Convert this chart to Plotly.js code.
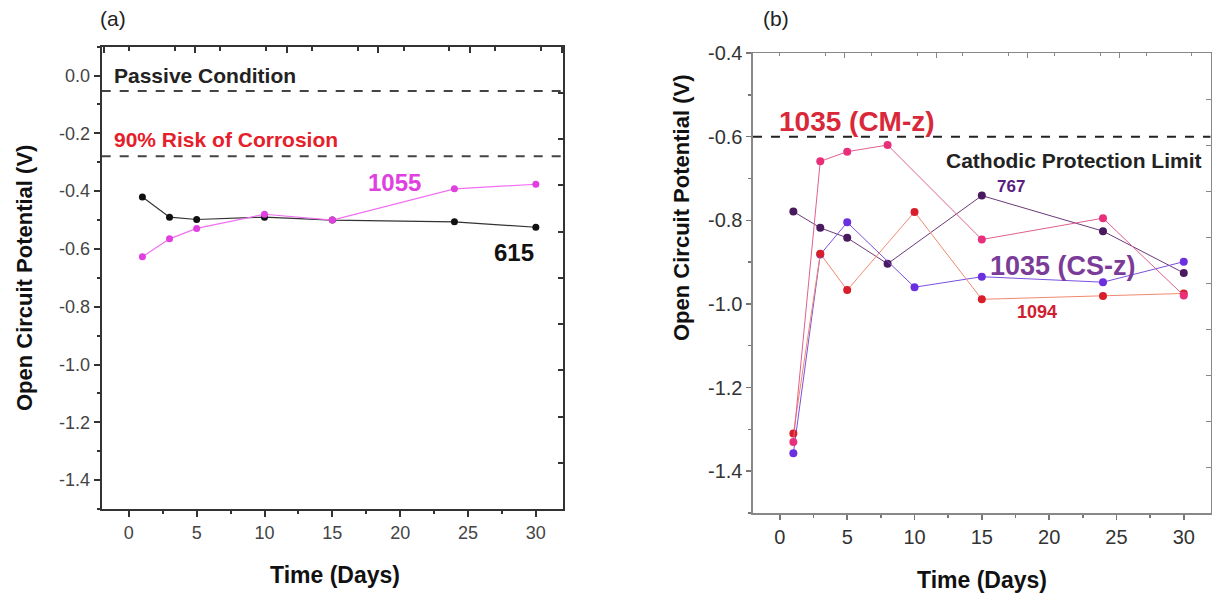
<!DOCTYPE html>
<html>
<head>
<meta charset="utf-8">
<script src="https://cdn.plot.ly/plotly-3.0.1.min.js"></script>
<style>html,body{margin:0;padding:0;background:#fff;}#chart{width:1218px;height:597px;}</style>
</head>
<body>
<div id="chart"></div>
<script>
// ---- Panel (a) data ----
const daysA = [1, 3, 5, 10, 15, 24, 30];
const ocp615 = [-0.42, -0.49, -0.498, -0.49, -0.50, -0.506, -0.525];
const ocp1055 = [-0.627, -0.565, -0.529, -0.48, -0.50, -0.392, -0.376];
const passiveLevel = -0.053;
const riskLevel = -0.279;

// ---- Panel (b) data ----
const daysCMz = [1, 3, 5, 8, 15, 24, 30];
const ocpCMz = [-1.33, -0.659, -0.636, -0.62, -0.846, -0.795, -0.98];
const days767 = [1, 3, 5, 8, 15, 24, 30];
const ocp767 = [-0.779, -0.818, -0.842, -0.904, -0.741, -0.826, -0.926];
const daysCSz = [1, 3, 5, 10, 15, 24, 30];
const ocpCSz = [-1.357, -0.882, -0.805, -0.96, -0.935, -0.948, -0.899];
const days1094 = [1, 3, 5, 10, 15, 24, 30];
const ocp1094 = [-1.31, -0.88, -0.967, -0.78, -0.989, -0.981, -0.975];
const cathodicLimit = -0.6;

const xTicks = [0, 5, 10, 15, 20, 25, 30];
const yTicksA = [0.0, -0.2, -0.4, -0.6, -0.8, -1.0, -1.2, -1.4];
const yTicksB = [-0.4, -0.6, -0.8, -1.0, -1.2, -1.4];

const F = '"Liberation Sans", Arial, sans-serif';
const xr = [-2, 32];

function line(x, y, xa, ya, lc, mc, lw, ms) {
  return {x: x, y: y, xaxis: xa, yaxis: ya, type: 'scatter', mode: 'lines+markers',
    line: {color: lc, width: lw}, marker: {color: mc, size: ms}, showlegend: false, hoverinfo: 'skip'};
}
function hline(yv, xa, ya, color, w) {
  return {x: xr, y: [yv, yv], xaxis: xa, yaxis: ya, type: 'scatter', mode: 'lines',
    line: {color: color, width: w, dash: 'dash'}, showlegend: false, hoverinfo: 'skip'};
}

const traces = [
  hline(passiveLevel, 'x', 'y', '#444', 2),
  hline(riskLevel, 'x', 'y', '#444', 2),
  line(daysA, ocp615, 'x', 'y', '#333', '#111', 1.2, 7),
  line(daysA, ocp1055, 'x', 'y', '#f070f0', '#e040e0', 1.2, 7),
  hline(cathodicLimit, 'x2', 'y2', '#222', 2),
  line(days767, ocp767, 'x2', 'y2', '#6a3a7a', '#4a1a5e', 1, 8),
  line(daysCSz, ocpCSz, 'x2', 'y2', '#7a50e0', '#6a30e0', 1, 8),
  line(days1094, ocp1094, 'x2', 'y2', '#f08a70', '#d81e2a', 1, 8),
  line(daysCMz, ocpCMz, 'x2', 'y2', '#e06090', '#e8307a', 1, 8)
];

const tf = {family: F, size: 18, color: '#444'};
const tfB = {family: F, size: 20, color: '#333'};

function pa(x, y, text, size, color, angle, xanchor) {
  return {xref: 'paper', yref: 'paper', x: x / 1218, y: 1 - y / 597, xanchor: xanchor || 'center', yanchor: 'middle',
    text: text, textangle: angle || 0, showarrow: false, font: {family: F, size: size, color: color}};
}

const layout = {
  width: 1218, height: 597,
  margin: {l: 0, r: 0, t: 0, b: 0},
  paper_bgcolor: '#fff', plot_bgcolor: '#fff',
  showlegend: false,
  xaxis: {domain: [0.0835, 0.4622], range: xr, tickvals: xTicks, ticks: 'outside', ticklen: 6, tickwidth: 2,
    tickcolor: '#333', showline: true, linecolor: '#333', linewidth: 2, showgrid: false, zeroline: false,
    tickfont: tf, anchor: 'y', minor: {dtick: 2.5, tick0: 0, ticks: 'outside', ticklen: 3, tickcolor: '#333', tickwidth: 2}},
  yaxis: {domain: [0.1474, 0.9218], range: [-1.5, 0.1], tickvals: yTicksA, ticktext: yTicksA.map(v => v.toFixed(1)),
    ticks: 'outside', ticklen: 6, tickwidth: 2, tickcolor: '#333', showline: true, linecolor: '#333', linewidth: 2,
    showgrid: false, zeroline: false, tickfont: tf, anchor: 'x',
    title: {text: '<b>Open Circuit Potential (V)</b>', font: {family: F, size: 22, color: '#111'}, standoff: 20},
    minor: {dtick: 0.1, tick0: 0, ticks: 'outside', ticklen: 3, tickcolor: '#333', tickwidth: 2}},
  xaxis3: {overlaying: 'x', side: 'top', range: xr, tick0: -1.85, dtick: 6.75, ticks: 'inside', ticklen: 6, tickwidth: 2,
    tickcolor: '#333', showticklabels: false, showline: true, linecolor: '#333', linewidth: 2, showgrid: false, zeroline: false,
    anchor: 'y', minor: {dtick: 3.375, ticks: 'inside', ticklen: 4, tickcolor: '#333'}},
  yaxis3: {overlaying: 'y', side: 'right', range: [-1.5, 0.1], tick0: -0.06, dtick: 0.16, ticks: 'inside', ticklen: 5,
    tickwidth: 2, tickcolor: '#333', showticklabels: false, showline: true, linecolor: '#333', linewidth: 2,
    showgrid: false, zeroline: false, anchor: 'x'},

  xaxis2: {domain: [0.6182, 0.9940], range: xr, tickvals: xTicks, ticks: 'outside', ticklen: 5, tickwidth: 1.5,
    tickcolor: '#777', showline: true, linecolor: '#888', linewidth: 1.5, showgrid: false, zeroline: false,
    tickfont: tfB, anchor: 'y2', minor: {dtick: 2.5, tick0: 0, ticks: 'outside', ticklen: 3, tickcolor: '#777'}},
  yaxis2: {domain: [0.1407, 0.9112], range: [-1.5, -0.4], tickvals: yTicksB, ticktext: yTicksB.map(v => v.toFixed(1)),
    ticks: 'outside', ticklen: 5, tickwidth: 1.5, tickcolor: '#777', showline: true, linecolor: '#888', linewidth: 1.5,
    showgrid: false, zeroline: false, tickfont: tfB, anchor: 'x2',
    minor: {dtick: 0.1, tick0: 0, ticks: 'outside', ticklen: 3, tickcolor: '#777'}},
  xaxis4: {overlaying: 'x2', side: 'top', range: xr, tick0: -2.0, dtick: 6.8, ticks: 'inside', ticklen: 5,
    tickcolor: '#888', showticklabels: false, showline: true, linecolor: '#888', linewidth: 1.5, showgrid: false,
    zeroline: false, anchor: 'y2', minor: {dtick: 3.4, ticks: 'inside', ticklen: 3, tickcolor: '#888'}},
  yaxis4: {overlaying: 'y2', side: 'right', range: [-1.5, -0.4], tick0: -0.62, dtick: 0.11, ticks: 'inside', ticklen: 5,
    tickcolor: '#888', showticklabels: false, showline: true, linecolor: '#888', linewidth: 1.5, showgrid: false,
    zeroline: false, anchor: 'x2'},

  annotations: [
    pa(113, 19, '(a)', 21, '#222'),
    pa(776, 19, '(b)', 21, '#222'),
    pa(681, 208, '<b>Open Circuit Potential (V)</b>', 22, '#111', -90),
    pa(335, 575, '<b>Time (Days)</b>', 23, '#111'),
    pa(982, 580, '<b>Time (Days)</b>', 23, '#111'),

    {xref: 'x', yref: 'y', x: -1.25, y: 0.0, xanchor: 'left', yanchor: 'middle', text: '<b>Passive Condition</b>', showarrow: false,
      font: {family: F, size: 21, color: '#222'}},
    {xref: 'x', yref: 'y', x: -1.25, y: -0.222, xanchor: 'left', yanchor: 'middle', text: '<b>90% Risk of Corrosion</b>', showarrow: false,
      font: {family: F, size: 21, color: '#e5202a'}},
    {xref: 'x', yref: 'y', x: 19.6, y: -0.37, xanchor: 'center', yanchor: 'middle', text: '<b>1055</b>', showarrow: false,
      font: {family: F, size: 24, color: '#e040e0'}},
    {xref: 'x', yref: 'y', x: 28.4, y: -0.611, xanchor: 'center', yanchor: 'middle', text: '<b>615</b>', showarrow: false,
      font: {family: F, size: 24, color: '#111'}},

    {xref: 'x2', yref: 'y2', x: -0.2, y: -0.564, xanchor: 'left', yanchor: 'middle', text: '<b>1035 (CM-z)</b>', showarrow: false,
      font: {family: F, size: 28, color: '#d8283a'}},
    {xref: 'x2', yref: 'y2', x: 31.5, y: -0.658, xanchor: 'right', yanchor: 'middle', text: '<b>Cathodic Protection Limit</b>', showarrow: false,
      font: {family: F, size: 21, color: '#222'}},
    {xref: 'x2', yref: 'y2', x: 17.2, y: -0.719, xanchor: 'center', yanchor: 'middle', text: '<b>767</b>', showarrow: false,
      font: {family: F, size: 17, color: '#5a2080'}},
    {xref: 'x2', yref: 'y2', x: 21.0, y: -0.909, xanchor: 'center', yanchor: 'middle', text: '<b>1035 (CS-z)</b>', showarrow: false,
      font: {family: F, size: 27, color: '#7a3c98'}},
    {xref: 'x2', yref: 'y2', x: 19.1, y: -1.02, xanchor: 'center', yanchor: 'middle', text: '<b>1094</b>', showarrow: false,
      font: {family: F, size: 18, color: '#d02030'}}
  ]
};

// invisible points so overlay frame axes render
traces.push({x: [0], y: [0], xaxis: 'x3', yaxis: 'y3', mode: 'markers', marker: {opacity: 0}, showlegend: false, hoverinfo: 'skip'});
traces.push({x: [0], y: [-1], xaxis: 'x4', yaxis: 'y4', mode: 'markers', marker: {opacity: 0}, showlegend: false, hoverinfo: 'skip'});

Plotly.newPlot('chart', traces, layout, {displayModeBar: false, staticPlot: true});
</script>
</body>
</html>
